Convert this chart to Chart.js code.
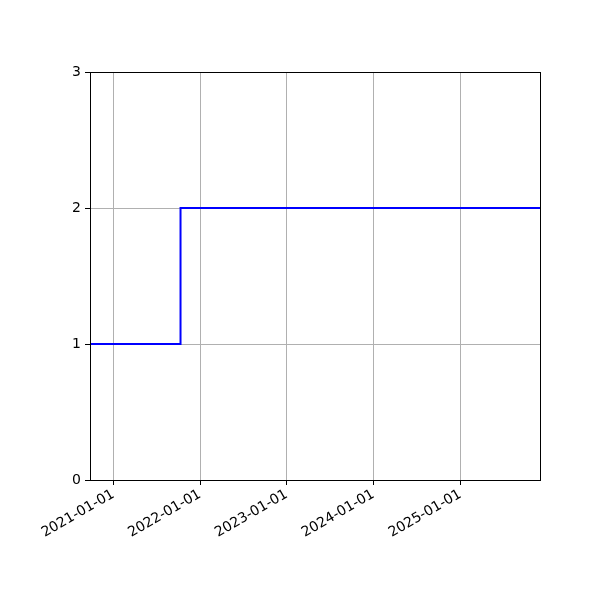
<!DOCTYPE html>
<html>
<head>
<meta charset="utf-8">
<script src="https://cdn.jsdelivr.net/npm/chart.js@4/dist/chart.umd.min.js"></script>
<style>
html,body{margin:0;padding:0;background:#fff;}
#wrap{width:600px;height:600px;}
</style>
</head>
<body>
<div id="wrap"><canvas id="c" width="600" height="600"></canvas></div>
<script>
// Data
const dates = ['2020-09-25', '2021-10-11', '2025-12-02'];
const values = [1, 2, 2];
const xTickDates = ['2021-01-01', '2022-01-01', '2023-01-01', '2024-01-01', '2025-01-01'];
const yTicks = [0, 1, 2, 3];

const toMs = s => Date.parse(s + 'T00:00:00Z');
const points = dates.map((d, i) => ({x: toMs(d), y: values[i]}));
const xTickMs = xTickDates.map(toMs);
const msToLabel = ms => new Date(ms).toISOString().slice(0, 10);

const framePlugin = {
  id: 'frame',
  afterDraw(chart) {
    const {ctx, chartArea: a} = chart;
    ctx.save();
    ctx.strokeStyle = '#000';
    ctx.lineWidth = 1;
    ctx.strokeRect(Math.round(a.left) + 0.5, Math.round(a.top) + 0.5, Math.round(a.right - a.left), Math.round(a.bottom - a.top));
    ctx.restore();
  }
};

new Chart(document.getElementById('c'), {
  type: 'line',
  data: {
    datasets: [{
      data: points,
      borderColor: '#0000ff',
      borderWidth: 2,
      pointRadius: 0,
      stepped: 'before',
      fill: false
    }]
  },
  options: {
    responsive: false,
    devicePixelRatio: 1,
    animation: false,
    layout: {padding: {left: 0, top: 72, right: 60, bottom: 0}},
    plugins: {legend: {display: false}, tooltip: {enabled: false}},
    scales: {
      x: {
        type: 'linear',
        min: points[0].x,
        max: points[points.length - 1].x,
        afterBuildTicks: s => { s.ticks = xTickMs.map(v => ({value: v})); },
        afterFit: s => { s.height = 120; },
        ticks: {
          callback: v => msToLabel(v),
          maxRotation: 30, minRotation: 30,
          autoSkip: false,
          color: '#000',
          font: {family: 'DejaVu Sans', size: 14},
          padding: 1
        },
        grid: {color: '#b0b0b0', lineWidth: 1, tickColor: '#000', tickLength: 5, drawTicks: true},
        border: {display: false}
      },
      y: {
        min: 0, max: 3,
        afterBuildTicks: s => { s.ticks = yTicks.map(v => ({value: v})); },
        afterFit: s => { s.width = 90; },
        ticks: {
          color: '#000',
          font: {family: 'DejaVu Sans', size: 14},
          padding: 4
        },
        grid: {color: '#b0b0b0', lineWidth: 1, tickColor: '#000', tickLength: 5},
        border: {display: false}
      }
    }
  },
  plugins: [framePlugin]
});
</script>
</body>
</html>
